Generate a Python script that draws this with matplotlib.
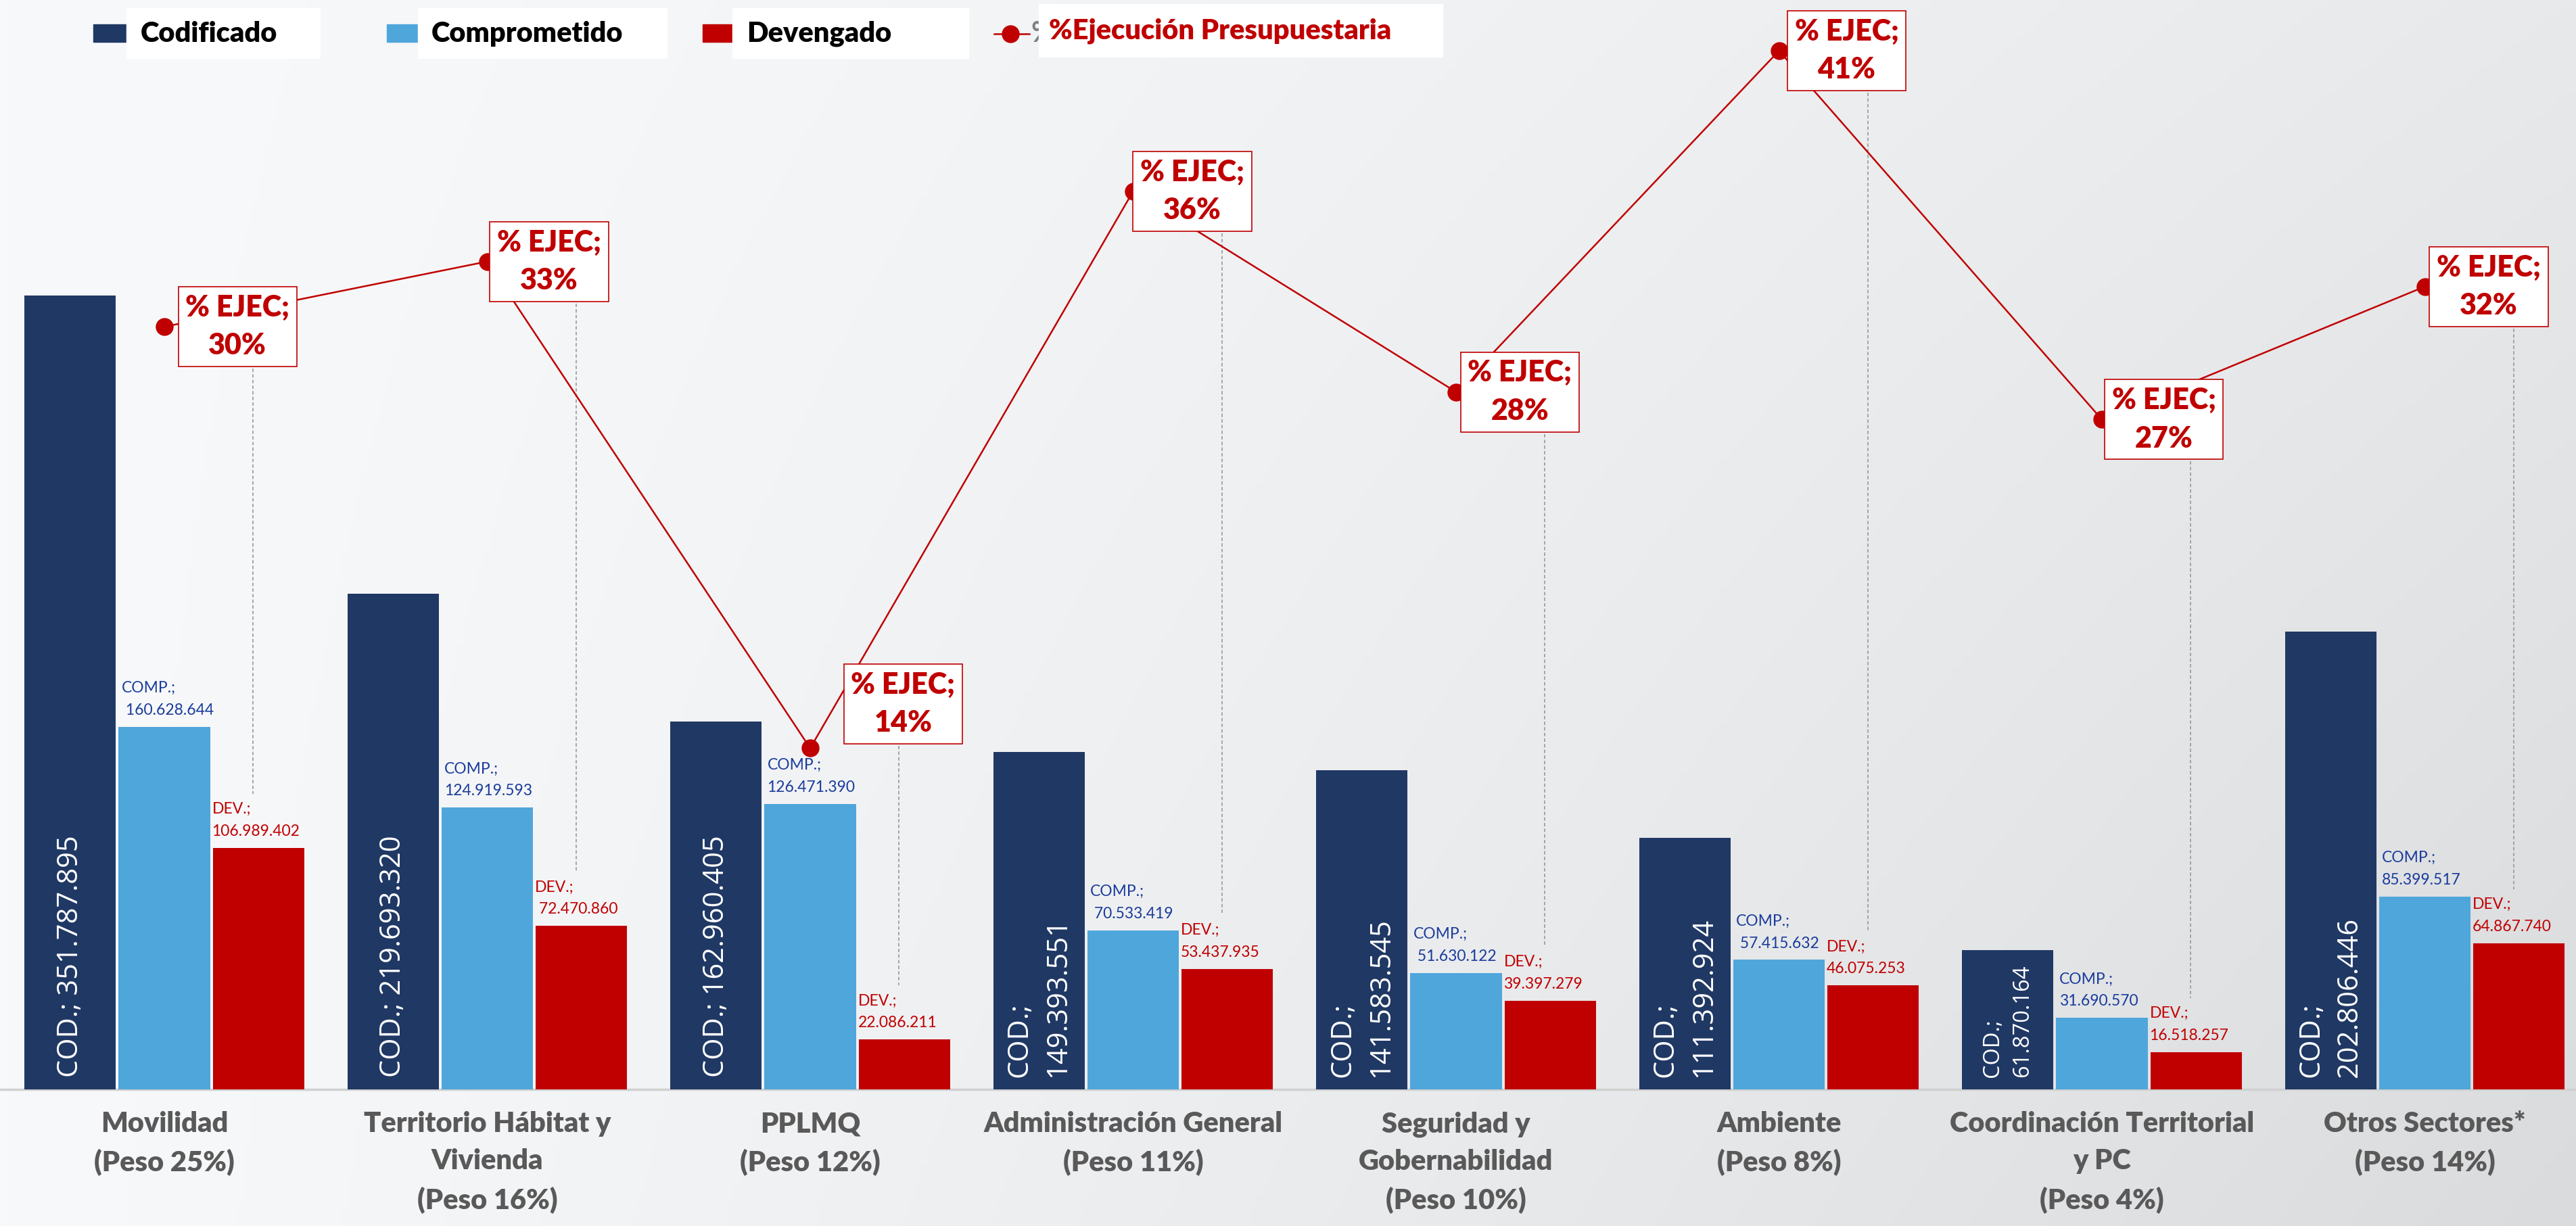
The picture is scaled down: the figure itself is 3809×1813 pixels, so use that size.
import numpy as np
import matplotlib
matplotlib.use("Agg")
import matplotlib.pyplot as plt
from matplotlib.patches import Rectangle
from matplotlib.lines import Line2D

# datos del grafico
categorias = ["Movilidad\n(Peso 25%)", "Territorio Hábitat y\nVivienda\n(Peso 16%)", "PPLMQ\n(Peso 12%)",
              "Administración General\n(Peso 11%)", "Seguridad y\nGobernabilidad\n(Peso 10%)",
              "Ambiente\n(Peso 8%)", "Coordinación Territorial\ny PC\n(Peso 4%)", "Otros Sectores*\n(Peso 14%)"]
codificado = [351787895, 219693320, 162960405, 149393551, 141583545, 111392924, 61870164, 202806446]
comprometido = [160628644, 124919593, 126471390, 70533419, 51630122, 57415632, 31690570, 85399517]
devengado = [106989402, 72470860, 22086211, 53437935, 39397279, 46075253, 16518257, 64867740]
ejecucion = [30.4, 33.0, 13.6, 35.8, 27.8, 41.4, 26.7, 32.0]

# detalles de etiquetas (como aparecen en el original)
cod_dos_lineas = [False, False, False, True, True, True, True, True]
comp_espacio = [True, False, False, True, True, True, False, False]
dev_espacio = [False, True, False, False, False, False, False, False]

AZUL_OSC = "#203864"
AZUL_CLARO = "#4FA6DB"
ROJO = "#C00000"
AZUL_TXT = "#1A3C9C"
GRIS = "#595959"

W, H = 3809, 1813


def fmt(v):
    return f"{v:,}".replace(",", ".")


def fx(px):
    return px / W


def fy(py):
    return 1 - py / H


fig = plt.figure(figsize=(W / 100, H / 100), dpi=100)

# fondo degradado gris claro
bg = fig.add_axes([0, 0, 1, 1], zorder=0)
xx, yy = np.meshgrid(np.linspace(0, 1, 400), np.linspace(0, 1, 200))
v = 249 - 16 * xx ** 1.3 - 14 * yy * xx
img = np.dstack([v - 1, v, v + 2]) / 255.0
bg.imshow(np.clip(img, 0, 1), aspect="auto", extent=[0, 1, 0, 1], origin="upper")
bg.axis("off")

base = 1611
ax = fig.add_axes([0, 1 - base / H, 1, base / H], zorder=1)
ax.patch.set_visible(False)
ax2 = ax.twinx()
ax2.patch.set_visible(False)

x = np.arange(len(categorias))
w = 0.283
off = 0.292

ax.bar(x - off, codificado, w, color=AZUL_OSC, zorder=2)
ax.bar(x, comprometido, w, color=AZUL_CLARO, zorder=2)
ax.bar(x + off, devengado, w, color=ROJO, zorder=2)

ax.set_xlim(-243 / 477.5, (W - 243) / 477.5)
ax.set_ylim(0, base / 3.337e-6)
ax2.set_ylim(0, base / 37.1)
for a in (ax, ax2):
    a.axis("off")

ax.axhline(0, color="#D0D0D0", lw=2.5, clip_on=False, zorder=1)

# etiquetas COD
for i in range(len(x)):
    if cod_dos_lineas[i]:
        txt = "COD.;\n" + fmt(codificado[i])
    else:
        txt = "COD.; " + fmt(codificado[i])
    size = 23.5 if codificado[i] < 100000000 else 30
    ax.annotate(txt, xy=(x[i] - off, 0), xytext=(0, 13), textcoords="offset points",
                rotation=90, rotation_mode="anchor", ha="left", va="center",
                color="white", fontsize=size, family="Open Sans", linespacing=1.45, zorder=3)

# etiquetas COMP y DEV
for i in range(len(x)):
    t = "COMP.;\n" + (" " if comp_espacio[i] else "") + fmt(comprometido[i])
    ax.annotate(t, xy=(x[i] - w / 2, comprometido[i]), xytext=(3, 10), textcoords="offset points",
                ha="left", va="bottom", color=AZUL_TXT, fontsize=16.5, family="Lato",
                linespacing=1.7, zorder=3)
    t = "DEV.;\n" + (" " if dev_espacio[i] else "") + fmt(devengado[i])
    ax.annotate(t, xy=(x[i] + off - w / 2, devengado[i]), xytext=(-1, 10), textcoords="offset points",
                ha="left", va="bottom", color=ROJO, fontsize=16.5, family="Lato",
                linespacing=1.7, zorder=3)

# categorias
for i in range(len(x)):
    ax.text(x[i], -0.02, categorias[i], transform=ax.get_xaxis_transform(), ha="center", va="top",
            color=GRIS, fontsize=30, fontweight="heavy", family="Lato", linespacing=1.55)

# linea de % ejecucion
ax2.plot(x, ejecucion, color=ROJO, lw=1.8, marker="o", ms=18, zorder=4)

dx = [78, 66, 99, 63, 68, 72, 66, 68]
dy = [0, 0, 47, 0, 0, 0, 0, 0]
for i in range(len(x)):
    ax2.annotate("% EJEC;\n" + str(round(ejecucion[i])) + "%", xy=(x[i], ejecucion[i]),
                 xytext=(dx[i], dy[i]), textcoords="offset points", ha="center", va="center",
                 color=ROJO, fontsize=31, fontweight="heavy", family="Lato", linespacing=1.5,
                 bbox=dict(boxstyle="square,pad=0.25", fc="white", ec=ROJO, lw=1.2), zorder=6)

# lineas guia punteadas
inv = ax2.transData.inverted()
for i in range(len(x)):
    mx, my = ax2.transData.transform((x[i], ejecucion[i]))
    rx, ry = ax.transData.transform((x[i] + off, devengado[i]))
    top = my + dy[i] / 0.72 - 62
    bot = ry + 80
    p1 = inv.transform((rx - 8, top))
    p2 = inv.transform((rx - 8, bot))
    ax2.plot([p1[0], p2[0]], [p1[1], p2[1]], color="#999999", lw=1.2, dashes=(3, 2), zorder=1)

# leyenda
fig.patches.append(Rectangle((fx(138), fy(62)), fx(50), 26 / H, transform=fig.transFigure, color=AZUL_OSC))
fig.patches.append(Rectangle((fx(187), fy(86)), fx(286), 74 / H, transform=fig.transFigure, color="white"))
fig.text(fx(208), fy(50), "Codificado", fontsize=30, fontweight="heavy", family="Lato", va="center")

fig.patches.append(Rectangle((fx(572), fy(62)), fx(46), 26 / H, transform=fig.transFigure, color=AZUL_CLARO))
fig.patches.append(Rectangle((fx(618), fy(86)), fx(368), 74 / H, transform=fig.transFigure, color="white"))
fig.text(fx(638), fy(50), "Comprometido", fontsize=30, fontweight="heavy", family="Lato", va="center")

fig.patches.append(Rectangle((fx(1039), fy(62)), fx(44), 26 / H, transform=fig.transFigure, color=ROJO))
fig.patches.append(Rectangle((fx(1083), fy(86)), fx(349), 74 / H, transform=fig.transFigure, color="white"))
fig.text(fx(1104), fy(50), "Devengado", fontsize=30, fontweight="heavy", family="Lato", va="center")

fig.lines.append(Line2D([fx(1470), fx(1522)], [fy(50), fy(50)], transform=fig.transFigure,
                       color=ROJO, lw=1.8, marker=None))
fig.lines.append(Line2D([fx(1494)], [fy(50)], transform=fig.transFigure, color=ROJO, marker="o", ms=18))
fig.text(fx(1524), fy(50), "%", fontsize=30, fontweight="bold", family="Lato", va="center", color="#7F7F7F")
fig.patches.append(Rectangle((fx(1536), fy(84)), fx(597), 78 / H, transform=fig.transFigure, color="white",
                             zorder=5))
fig.text(fx(1551), fy(46), "%Ejecución Presupuestaria", fontsize=30, fontweight="heavy", family="Lato",
         va="center", color=ROJO, zorder=6)

fig.savefig("out.png", dpi=100)
